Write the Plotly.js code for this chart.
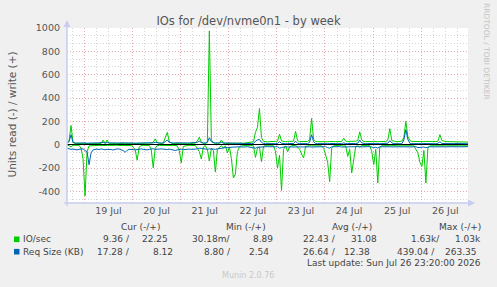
<!DOCTYPE html>
<html>
<head>
<meta charset="utf-8">
<script src="https://cdn.plot.ly/plotly-3.0.1.min.js"></script>
<style>
html,body{margin:0;padding:0;background:#f0f0f0;}
#chart{width:497px;height:287px;}
</style>
</head>
<body>
<div id="chart"></div>
<script>
// ---- data (hourly samples starting 2026-07-18 15:20) ----
const startTime = '2026-07-18 15:20';
const endTime = '2026-07-26 23:20';

// IO/sec write (+)
const ioWrite = [
 12,30,165,20,10,12,8,10,9,11,8,10,12,9,10,8,11,10,40,12,
 40,10,12,9,11,10,8,12,10,9,11,10,12,9,10,11,8,10,12,9,
 10,12,15,20,50,18,12,10,14,60,105,30,12,10,11,9,12,10,11,10,
 12,10,9,11,14,30,65,20,12,10,18,975,40,15,12,10,14,40,12,10,
 11,12,10,14,12,10,11,13,12,15,18,20,22,25,105,150,310,60,28,25,
 24,26,25,27,28,30,90,32,26,25,28,27,26,30,114,35,26,25,24,27,
 28,40,225,45,28,26,25,27,28,26,25,28,30,27,26,28,29,27,55,30,
 28,27,26,28,30,35,110,40,28,26,25,28,27,29,26,25,27,28,30,27,
 40,137,35,28,27,26,28,30,60,200,70,35,28,27,26,25,28,27,26,28,
 27,26,28,29,27,30,86,35,28,27,26,25,27,28,26,24,25,23,24,22,22
];
// IO/sec read (-)
const ioRead = [
 5,8,20,6,5,7,6,30,120,440,60,10,8,6,5,7,6,8,10,7,
 6,5,7,8,6,5,7,6,8,5,6,7,8,20,45,133,20,8,6,7,
 5,6,40,198,30,8,6,7,5,6,8,10,7,6,8,10,50,157,15,8,
 7,6,8,5,7,30,60,123,20,8,40,140,30,50,235,40,20,8,30,10,
 71,20,120,286,251,60,20,10,8,7,6,8,7,9,109,30,20,146,15,8,
 9,8,7,10,60,200,90,394,40,10,60,20,8,9,7,20,40,80,114,15,
 9,8,10,9,8,7,9,10,30,90,150,317,30,9,8,10,9,8,12,9,
 100,40,243,120,15,9,20,8,10,9,8,9,60,171,40,329,20,9,8,10,
 9,8,10,9,8,10,9,8,10,9,8,9,10,9,40,70,150,186,50,329,
 30,10,9,8,10,9,8,9,10,9,8,10,9,8,9,10,9,8,9,10,9
];
// Req Size (KB) write (+)
const reqWrite = [
 15,25,85,20,14,15,13,16,14,15,12,14,16,13,15,14,16,15,20,14,
 18,15,14,16,13,15,14,16,15,14,13,15,16,14,15,13,14,16,15,14,
 15,14,16,15,20,16,14,15,13,25,40,20,15,14,16,15,13,14,15,16,
 14,15,16,13,15,20,30,18,15,14,20,60,25,16,14,15,13,20,14,15,
 14,16,15,13,14,15,12,11,10,10,9,10,9,10,30,40,45,20,10,9,
 8,9,10,8,9,10,25,12,9,8,10,9,8,10,30,12,9,8,9,10,
 9,20,85,25,10,9,8,9,10,8,9,10,8,9,10,9,8,9,15,9,
 10,9,8,9,10,12,40,15,9,8,10,9,8,9,10,8,9,10,9,8,
 12,35,15,9,8,10,9,8,40,128,45,12,9,8,10,9,8,9,10,9,
 8,9,10,9,8,12,25,10,9,8,9,10,8,9,10,9,8,9,8,9,8
];
// Req Size (KB) read (-)
const reqRead = [
 30,35,40,38,42,45,40,38,35,50,60,172,70,45,40,38,42,36,40,44,
 40,38,42,46,40,36,38,45,50,66,48,40,38,42,45,40,38,36,40,42,
 45,40,38,35,40,42,38,36,40,44,42,38,40,46,50,45,40,38,42,40,
 36,38,40,42,38,35,30,32,35,38,40,36,34,38,40,36,32,30,28,25,
 24,22,25,20,22,20,18,20,22,19,18,20,22,25,30,22,20,18,17,18,
 17,18,20,19,18,17,30,25,18,17,20,19,18,17,20,18,17,19,20,18,
 17,18,20,19,18,17,19,20,18,17,25,30,18,17,19,18,17,20,19,18,
 17,18,19,20,18,17,19,18,17,19,18,17,20,25,22,30,18,17,19,18,
 17,18,19,18,17,18,19,17,18,19,17,18,19,18,17,25,22,24,20,26,
 18,17,19,18,17,18,19,17,18,19,17,18,17,18,19,17,18,17,18,17,17
];

const yTickVals = [-400,-200,0,200,400,600,800,1000];
const yTickText = ['-400','-200','0','200','400','600','800','1000'];

const legendRows = [
  {name:'IO/sec', color:'#00cc00',
   cur:['9.36 /','22.25'], min:['30.18m/','8.89'], avg:['22.43 /','31.08'], max:['1.63k/','1.03k']},
  {name:'Req Size (KB)', color:'#0066b3',
   cur:['17.28 /','8.12'], min:['8.80 /','2.54'], avg:['26.64 /','12.38'], max:['439.04 /','263.35']}
];
const lastUpdate = 'Last update: Sun Jul 26 23:20:00 2026';

// ---- time axis ----
const t0 = Date.UTC(2026,6,18,15,20);
const times = ioWrite.map((_, i) => new Date(t0 + i*3600e3).toISOString().slice(0,19).replace('T',' '));
const neg = a => a.map(v => -v);

const green = '#00cc00', blue = '#0066b3';
const traces = [
  {x: times, y: neg(ioRead), type:'scatter', mode:'lines', line:{color:green, width:1}, hoverinfo:'skip'},
  {x: times, y: ioWrite, type:'scatter', mode:'lines', line:{color:green, width:1}, hoverinfo:'skip'},
  {x: times, y: neg(reqRead), type:'scatter', mode:'lines', line:{color:blue, width:1}, hoverinfo:'skip'},
  {x: times, y: reqWrite, type:'scatter', mode:'lines', line:{color:blue, width:1}, hoverinfo:'skip'}
];

// pixel -> paper helpers (plot area 67..468 x 28..203)
const L=67, R=468, T=28, B=203;
const px = x => (x-L)/(R-L);
const py = y => (B-y)/(B-T);

const txtFont = {family:'DejaVu Sans', size:9, color:'#444'};
const ann = [];
function addText(text, x, y, anchor, font){
  ann.push({text, x:px(x), y:py(y), xref:'paper', yref:'paper', xanchor:anchor, yanchor:'middle', showarrow:false, font: font||txtFont});
}
// column headers
addText('Cur (-/+)', 140, 226.5, 'center');
addText('Min (-/+)', 246, 226.5, 'center');
addText('Avg (-/+)', 352, 226.5, 'center');
addText('Max (-/+)', 460, 226.5, 'center');
const rowY = [239.3, 251.7];
const colEnds = [
  [131.7,170, 233,275, 338,379, 441.7,482.7],
  [131.7,175, 232.7,270.7, 338,372.3, 436.7,479.3]
];
const shapes = [];
legendRows.forEach((r, k) => {
  const y = rowY[k];
  addText(r.name, 20.5, y, 'left');
  const vals = [...r.cur, ...r.min, ...r.avg, ...r.max];
  vals.forEach((v, j) => addText(v, colEnds[k][j], y, 'right'));
  shapes.push({type:'rect', xref:'paper', yref:'paper', x0:px(14), x1:px(19.5), y0:py(y+2.8), y1:py(y-2.8), fillcolor:r.color, line:{width:0}});
});
addText(lastUpdate, 482.7, 263.3, 'right');
addText('Munin 2.0.76', 248, 275.5, 'center', {family:'DejaVu Sans', size:8, color:'#c8c8c8'});
ann.push({text:'RRDTOOL / TOBI OETIKER', textangle:90, x:px(487), y:py(51), xref:'paper', yref:'paper',
  xanchor:'center', yanchor:'middle', showarrow:false, font:{family:'DejaVu Sans', size:7.5, color:'#c4c4c4'}});
ann.push({text:'Units read (-) / write (+)', textangle:-90, x:px(11.5), y:py(114), xref:'paper', yref:'paper',
  xanchor:'center', yanchor:'middle', showarrow:false, font:{family:'DejaVu Sans', size:10.5, color:'#555'}});

// axis arrows
const axisCol = '#c8ccf0';
shapes.push({type:'path', xref:'paper', yref:'paper',
  path:`M ${px(63.5)} ${py(27)} L ${px(70.5)} ${py(27)} L ${px(67)} ${py(20)} Z`, fillcolor:axisCol, line:{width:0}});
shapes.push({type:'path', xref:'paper', yref:'paper',
  path:`M ${px(468)} ${py(199.5)} L ${px(468)} ${py(206.5)} L ${px(475)} ${py(203)} Z`, fillcolor:axisCol, line:{width:0}});
shapes.push({type:'line', xref:'paper', yref:'paper', x0:px(67), x1:px(67), y0:py(206), y1:py(27), line:{color:axisCol, width:1.5}});
shapes.push({type:'line', xref:'paper', yref:'paper', x0:px(64), x1:px(468), y0:py(203), y1:py(203), line:{color:axisCol, width:1.5}});

const majorGrid = '#e6a8a8', minorGrid = '#d6d6d6';
const layout = {
  width:497, height:287,
  margin:{l:L, r:497-R, t:T, b:287-B, pad:0},
  paper_bgcolor:'#f0f0f0', plot_bgcolor:'#ffffff',
  showlegend:false,
  title:{text:'IOs for /dev/nvme0n1 - by week', x:0.5, xref:'container', xanchor:'center',
         y:1-21/287, yref:'container', yanchor:'middle',
         font:{family:'DejaVu Sans', size:11.5, color:'#555'}},
  xaxis:{type:'date', range:[startTime, endTime], tick0:'2026-07-19 00:00', dtick:86400000,
         ticklabelmode:'period', tickformat:'%d %b', showgrid:true, gridcolor:majorGrid, griddash:'1px,2px', gridwidth:1,
         minor:{dtick:6*3600000, showgrid:true, gridcolor:minorGrid, griddash:'1px,2px', gridwidth:1},
         zeroline:false, showline:false, ticks:'', fixedrange:true,
         tickfont:{family:'DejaVu Sans', size:9.5, color:'#555'}},
  yaxis:{range:[-500,1000], tickmode:'array', tickvals:yTickVals, ticktext:yTickText,
         showgrid:true, gridcolor:majorGrid, griddash:'1px,2px', gridwidth:1,
         minor:{tick0:0, dtick:200/3, showgrid:true, gridcolor:minorGrid, griddash:'1px,2px', gridwidth:1},
         zeroline:true, zerolinecolor:'#000000', zerolinewidth:1.3, showline:false, ticks:'',
         ticklabelstandoff:6, fixedrange:true,
         tickfont:{family:'DejaVu Sans', size:9.5, color:'#555'}},
  annotations: ann,
  shapes: shapes
};
Plotly.newPlot('chart', traces, layout, {staticPlot:true, displayModeBar:false});
</script>
</body>
</html>
